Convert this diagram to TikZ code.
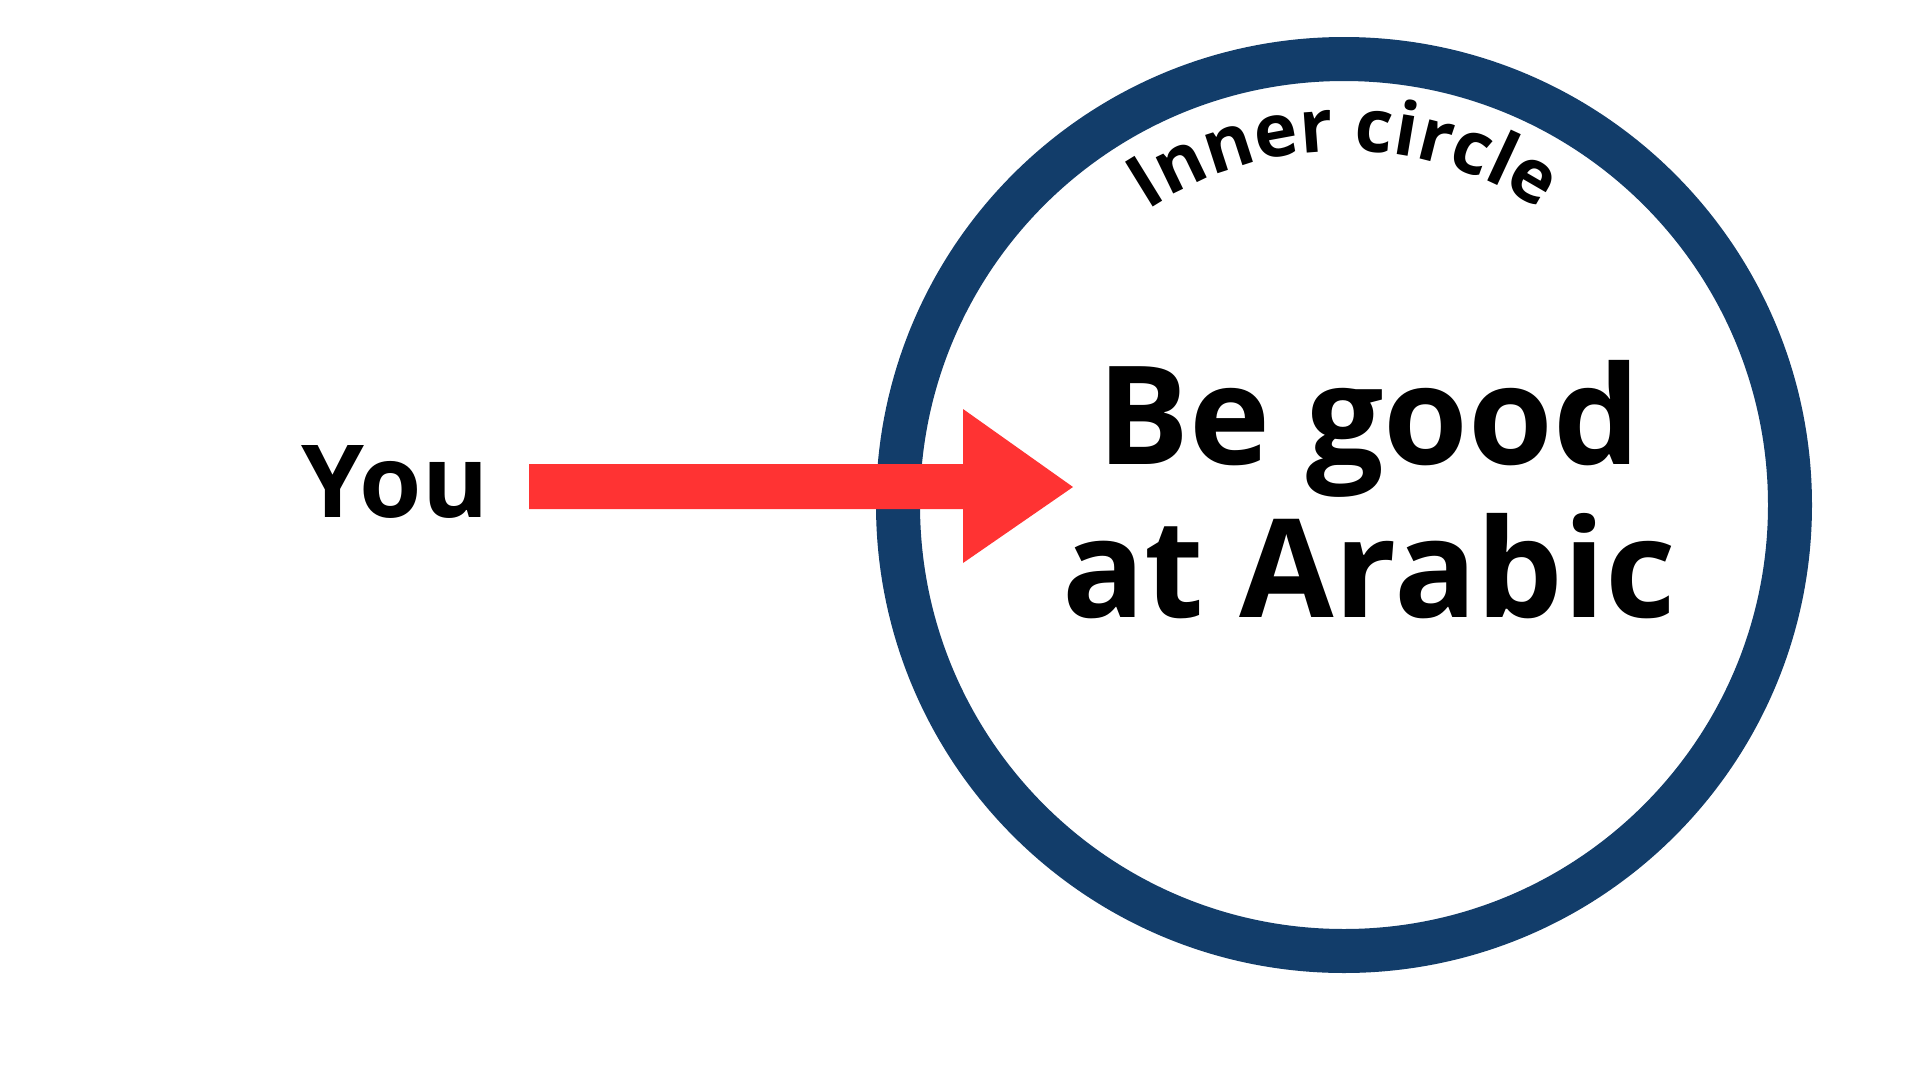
\documentclass[tikz,border=0pt]{standalone}
\usepackage{fontspec}
\setmainfont{Open Sans}
\usetikzlibrary{decorations.text}
\definecolor{ringblue}{HTML}{123D6A}
\definecolor{arrowred}{HTML}{FF3333}
\tikzset{
  ring/.style={draw=ringblue, line width=4.4mm},
  bigtext/.style={anchor=base, inner sep=0pt, font=\fontsize{39pt}{43.5pt}\selectfont\bfseries},
  youtext/.style={anchor=base, inner sep=0pt, font=\fontsize{28.7pt}{33pt}\selectfont\bfseries},
  blockarrow/.style={fill=arrowred, draw=none}
}
\begin{document}
\begin{tikzpicture}[x=0.1mm,y=0.1mm]
\useasboundingbox[fill=white] (0,0) rectangle (1920,1080);
\coordinate (c) at (1344,575);
% ring
\draw[ring] (c) circle[radius=446];
% curved label
\path[decorate, decoration={text along path, text align=center,
  text={|\fontsize{21pt}{25pt}\selectfont\bfseries|Inner circle}}]
  (c) ++(150:354) arc[start angle=150, end angle=30, radius=354];
% texts
\node[youtext] (you) at (395,563) {You};
\node[bigtext] (line1) at (1369,616) {Be good};
\node[bigtext] (line2) at (1369,463) {at Arabic};
% arrow
\coordinate (a0) at (529,571);
\fill[blockarrow] (a0) -- (963,616) -- (963,671) -- (1073,593) -- (963,517) -- (963,571) -- cycle;
\fill[blockarrow] (529,616) rectangle (964,571);
\end{tikzpicture}
\end{document}
